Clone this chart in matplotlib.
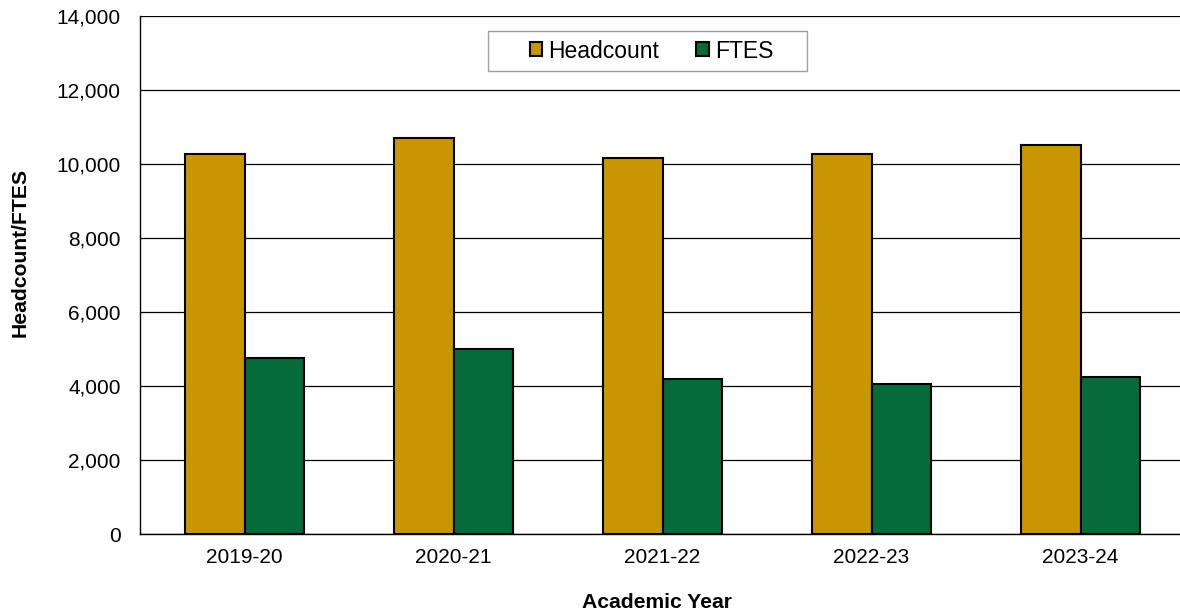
import matplotlib
matplotlib.use("Agg")
import matplotlib.pyplot as plt
import numpy as np
from matplotlib.ticker import FuncFormatter
from matplotlib.patches import Rectangle

years = ["2019-20", "2020-21", "2021-22", "2022-23", "2023-24"]
headcount = [10270, 10720, 10160, 10290, 10515]
ftes = [4765, 5015, 4180, 4065, 4235]

plt.rcParams['font.family'] = ['Liberation Sans', 'DejaVu Sans']

fig = plt.figure(figsize=(11.8, 6.14), dpi=100)
W, H = 1180, 614
ax = fig.add_axes([140 / W, (H - 534) / H, 1045 / W, (534 - 16.5) / H])

x = np.arange(len(years))
bw = 0.287
ax.bar(x - bw / 2, headcount, bw, color="#C89600", edgecolor="black", linewidth=1.5,
       label="Headcount", zorder=3)
ax.bar(x + bw / 2, ftes, bw, color="#056B3A", edgecolor="black", linewidth=1.5,
       label="FTES", zorder=3)

ax.set_xlim(-0.5, len(years) - 0.5)
ax.set_ylim(0, 14000)
ax.set_yticks(np.arange(0, 14001, 2000))
ax.yaxis.set_major_formatter(FuncFormatter(lambda v, p: f"{int(v):,}"))
ax.set_xticks(x)
ax.set_xticklabels(years)
ax.grid(axis="y", color="black", linewidth=0.9, zorder=0)
ax.set_axisbelow(True)
for s in ["top", "right"]:
    ax.spines[s].set_visible(False)
ax.spines["left"].set_linewidth(1.0)
ax.spines["bottom"].set_linewidth(1.0)
ax.tick_params(axis="y", length=0, pad=14, labelsize=15)
ax.tick_params(axis="x", length=0, pad=10, labelsize=15)

fs_leg = 16.5
leg = fig.legend(loc="center", bbox_to_anchor=(651.5 / W, 1 - 51 / H),
                 bbox_transform=fig.transFigure,
                 ncol=2, frameon=False, fontsize=fs_leg, handlelength=0.55,
                 handleheight=0.55, handletextpad=0.28, columnspacing=1.6,
                 borderpad=0, borderaxespad=0)
fig.add_artist(Rectangle((488 / W, 1 - 71 / H), (807 - 488) / W, 40 / H,
                         transform=fig.transFigure, facecolor="white",
                         edgecolor="#a0a0a0", linewidth=1.0, zorder=4))
leg.set_zorder(5)

fig.text(20 / W, 1 - 252 / H, "Headcount/FTES", rotation=90, ha="center", va="center",
         fontsize=15.2, fontweight="bold")
fig.text(657 / W, 1 - 602 / H, "Academic Year", ha="center", va="center",
         fontsize=15.2, fontweight="bold")

fig.savefig("out.png", dpi=100)
